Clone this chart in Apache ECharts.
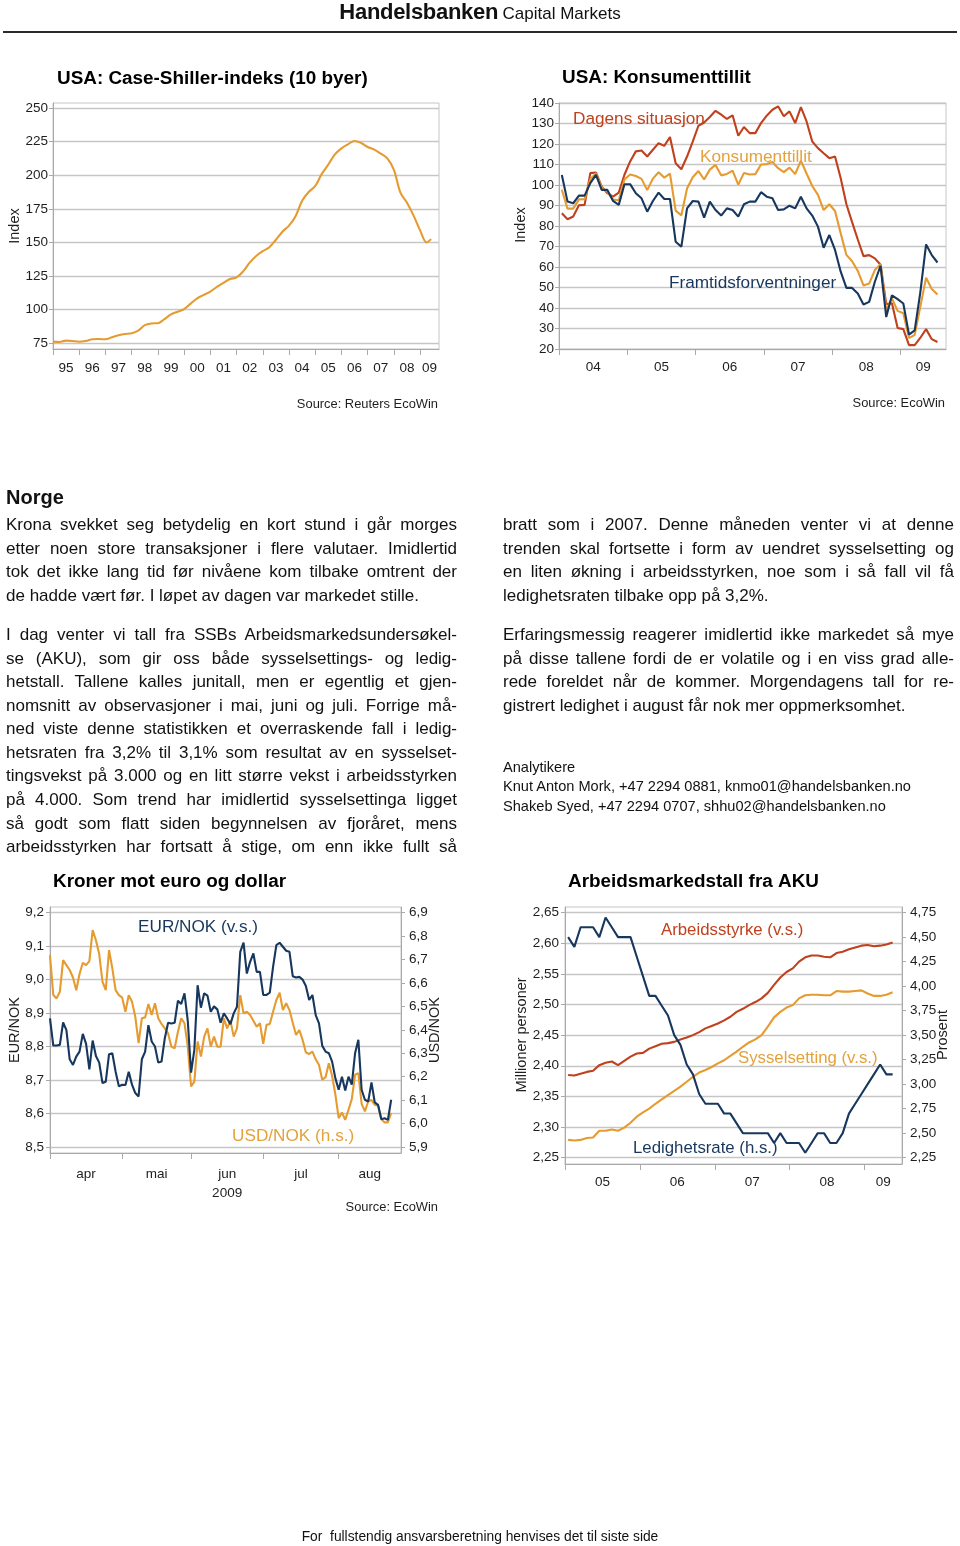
<!DOCTYPE html>
<html><head><meta charset="utf-8">
<script src="https://cdn.jsdelivr.net/npm/echarts@6/dist/echarts.min.js"></script>
<style>
html,body{margin:0;padding:0;background:#fff;}
#page{position:relative;width:960px;height:1546px;overflow:hidden;font-family:'Liberation Sans',Arial,sans-serif;color:#111;}
#chart{position:absolute;left:0;top:0;width:960px;height:1546px;}
.ln{position:absolute;white-space:nowrap;}
.jl{position:absolute;white-space:nowrap;text-align:justify;text-align-last:justify;}
</style></head>
<body><div id="page"><div id="chart"></div></div>
<script>
// ================= DATA =================
// Chart 1: Case-Shiller 10-city index
const csDates = ['1995-01','1995-04','1995-07','1995-10','1996-01','1996-04','1996-07','1996-10','1997-01','1997-04','1997-07','1997-10',
'1998-01','1998-04','1998-07','1998-10','1999-01','1999-04','1999-07','1999-10','2000-01','2000-04','2000-07','2000-10',
'2001-01','2001-04','2001-07','2001-10','2002-01','2002-04','2002-07','2002-10','2003-01','2003-04','2003-07','2003-10',
'2004-01','2004-04','2004-07','2004-10','2005-01','2005-04','2005-07','2005-10','2006-01','2006-04','2006-07','2006-10',
'2007-01','2007-04','2007-07','2007-10','2008-01','2008-04','2008-07','2008-10','2009-01','2009-04','2009-06'];
const csValues = [76.3,76.0,77.0,76.8,76.2,76.8,78.0,78.2,78.0,79.5,81.0,82.0,
82.5,84.5,88.5,89.8,90.0,93.0,96.5,98.5,100.5,104.5,108.5,111.0,
113.5,117.0,120.0,122.8,124.0,128.5,135.0,140.0,143.5,146.5,152.0,158.0,
162.5,169.5,181.0,187.5,192.0,201.0,208.0,215.5,220.0,223.0,225.5,224.0,
221.0,219.0,216.0,212.5,204.0,187.0,179.5,170.0,159.0,150.0,152.5];
const csYTicks = [75,100,125,150,175,200,225,250];
const csYears = [1995,1996,1997,1998,1999,2000,2001,2002,2003,2004,2005,2006,2007,2008,2009];

// Chart 2: US consumer confidence, monthly from 2004-01
const ccStartYear = 2004;
const ccYears = [2004,2005,2006,2007,2008,2009];
const ccPresent = [86.2,83.3,84.6,90.1,90.3,105.8,106.1,99.2,96.0,94.3,96.3,105.0,
111.5,116.4,116.8,113.9,117.2,120.4,119.1,123.4,110.6,107.7,113.9,121.2,
128.9,130.5,133.2,136.2,134.3,132.2,134.0,124.0,128.3,125.3,125.3,130.2,
133.8,136.7,138.4,133.5,135.9,130.2,138.0,131.0,121.2,118.0,115.5,113.1,
113.9,103.3,90.6,81.9,73.4,65.3,65.8,64.2,61.1,41.9,42.3,30.2,
29.7,21.9,21.9,25.5,29.7,24.8,23.4];
const ccConfidence = [97.7,88.5,88.5,93.0,93.1,102.8,105.7,98.7,96.7,92.9,92.6,102.7,
105.1,104.4,103.0,97.5,103.1,106.2,103.6,105.5,87.5,85.2,98.3,103.8,
106.8,102.7,107.5,109.8,104.7,105.4,107.0,100.2,105.9,105.1,105.3,110.0,
110.2,111.2,108.2,106.3,108.5,105.3,111.9,105.6,99.5,95.2,87.8,90.6,
87.3,76.4,65.9,62.8,58.1,51.0,51.9,58.5,61.4,38.8,44.7,38.6,
37.4,25.3,26.9,40.8,54.8,49.3,46.6];
const ccExpect = [104.9,91.9,91.1,94.8,94.8,100.9,104.9,97.6,97.6,92.2,90.3,100.4,
100.4,96.0,93.5,87.0,92.2,96.3,93.2,93.2,72.3,69.9,88.6,92.2,
91.9,84.1,91.9,87.8,85.1,88.6,87.8,84.6,90.6,91.9,91.9,96.5,
94.3,93.5,87.8,88.1,89.9,88.6,94.3,88.6,85.1,79.7,69.4,75.6,
68.3,57.7,49.8,49.8,47.1,41.7,43.0,52.8,60.6,35.6,46.2,44.3,
42.2,27.0,29.1,47.9,71.0,65.8,62.2];

// Chart 3: NOK vs EUR and USD, business days
const fxFirstDay = '2009-04-01', fxLastDay = '2009-08-28';
const fxMonthNames = ['apr','mai','jun','jul','aug'];
const fxEurNok = [8.884,8.803,8.803,8.805,8.872,8.849,8.762,8.745,8.770,8.785,
8.838,8.808,8.732,8.818,8.772,8.752,8.691,8.695,8.777,8.780,
8.725,8.681,8.686,8.685,8.725,8.686,8.661,8.651,8.762,8.785,
8.864,8.815,8.800,8.752,8.755,8.825,8.871,8.869,8.871,8.937,
8.927,8.959,8.877,8.722,8.790,8.983,8.916,8.959,8.952,8.904,
8.920,8.911,8.871,8.899,8.884,8.867,8.899,8.919,9.083,9.110,
9.018,9.053,9.078,9.023,9.023,8.954,8.954,8.961,9.038,9.103,
9.110,9.098,9.086,9.083,9.010,9.006,9.008,9.000,8.981,8.939,
8.954,8.894,8.869,8.802,8.785,8.780,8.755,8.705,8.671,8.710,
8.669,8.710,8.686,8.780,8.820,8.671,8.641,8.636,8.693,8.633,
8.626,8.583,8.586,8.581,8.641];
const fxUsdNok = [6.718,6.548,6.534,6.562,6.697,6.676,6.655,6.623,6.569,6.638,
6.686,6.676,6.693,6.825,6.782,6.723,6.605,6.569,6.740,6.662,
6.569,6.548,6.537,6.477,6.548,6.520,6.456,6.343,6.449,6.453,
6.510,6.463,6.513,6.449,6.425,6.406,6.385,6.328,6.321,6.392,
6.449,6.428,6.328,6.158,6.179,6.350,6.286,6.371,6.406,6.328,
6.371,6.328,6.328,6.449,6.406,6.439,6.371,6.406,6.548,6.470,
6.477,6.463,6.439,6.413,6.428,6.340,6.421,6.425,6.477,6.527,
6.558,6.484,6.513,6.484,6.430,6.378,6.399,6.357,6.303,6.297,
6.307,6.274,6.250,6.187,6.198,6.257,6.204,6.123,6.023,6.047,
6.016,6.059,6.104,6.208,6.215,6.084,6.052,6.094,6.101,6.080,
6.076,6.019,6.005,6.005,6.045];
const fxEurTicks = [8.5,8.6,8.7,8.8,8.9,9.0,9.1,9.2];
const fxUsdTicks = [5.9,6.0,6.1,6.2,6.3,6.4,6.5,6.6,6.7,6.8,6.9];

// Chart 4: AKU, monthly from 2005-01
const akuStartYear = 2005;
const akuYears = [2005,2006,2007,2008,2009];
const akuLabour = [2.385,2.384,2.387,2.390,2.392,2.401,2.405,2.407,2.401,2.408,
2.415,2.420,2.421,2.428,2.432,2.436,2.437,2.439,2.443,2.446,
2.450,2.455,2.461,2.465,2.469,2.474,2.480,2.488,2.493,2.499,
2.504,2.510,2.519,2.532,2.544,2.553,2.559,2.570,2.577,2.580,
2.580,2.578,2.577,2.584,2.586,2.590,2.593,2.596,2.597,2.595,
2.596,2.598,2.601];
const akuEmploy = [2.279,2.278,2.279,2.282,2.283,2.294,2.294,2.296,2.294,2.299,
2.307,2.317,2.324,2.330,2.338,2.345,2.352,2.359,2.366,2.374,
2.382,2.389,2.393,2.398,2.404,2.409,2.416,2.423,2.431,2.438,
2.443,2.450,2.464,2.479,2.488,2.495,2.499,2.510,2.515,2.516,
2.516,2.515,2.515,2.522,2.521,2.521,2.522,2.523,2.518,2.514,
2.514,2.516,2.520];
const akuUnemp = [4.5,4.4,4.6,4.6,4.6,4.5,4.7,4.6,4.5,4.5,
4.5,4.3,4.1,3.9,3.9,3.8,3.7,3.5,3.4,3.2,
3.1,2.9,2.8,2.8,2.8,2.7,2.7,2.6,2.5,2.5,
2.5,2.5,2.5,2.4,2.5,2.4,2.4,2.4,2.3,2.4,
2.5,2.5,2.4,2.4,2.5,2.7,2.8,2.9,3.0,3.1,
3.2,3.1,3.1];
const akuLeftTicks = [2.25,2.30,2.35,2.40,2.45,2.50,2.55,2.60,2.65];
const akuRightTicks = [2.25,2.50,2.75,3.00,3.25,3.50,3.75,4.00,4.25,4.50,4.75];

// ================= FONTS =================
function hasFont(name){
  const c=document.createElement('canvas').getContext('2d');
  const s='mmmmmmmmmmlli WWW 0123456789 Handelsbanken';
  for(const base of ['monospace','serif']){
    c.font='40px '+base; const a=c.measureText(s).width;
    c.font="40px '"+name+"', "+base; const b=c.measureText(s).width;
    if(Math.abs(a-b)>0.5) return true;
  }
  return false;
}
let NARROW='Liberation Sans', NS=0.86, HAS_N=false;
for(const f of ['Liberation Sans Narrow','Arial Narrow']){ if(hasFont(f)){NARROW=f;NS=1;HAS_N=true;break;} }
const REG='Liberation Sans';
const fs = s => Math.round(s*NS*10)/10;
const TICK = HAS_N ? 15 : 13.5;

// ================= COLORS =================
const ORANGE='#E69B30', RED='#C0411D', NAVY='#17375E', GRID='#C6C6C6', AXIS='#A9A9A9', LBL='#1E1E1E';

// ================= HELPERS =================
const comma = d => v => v.toFixed(d).replace('.',',');
function T(x,y,text,o={}){
  const size=o.size||15, fam=o.family||NARROW, w=o.weight||'normal';
  return {type:'text', x, y, rotation:o.rot||0, silent:true, z:100,
    style:{text, fill:o.color||LBL, font:`${w} ${size}px '${fam}'`,
      align:o.align||'left', textAlign:o.align||'left', verticalAlign:'middle', textVerticalAlign:'middle'}};
}
function yAxisBase(gi, min, max, ticks, fmt, pos, margin, split){
  return {gridIndex:gi, type:'value', min, max, position:pos,
    axisLine:{show:true, lineStyle:{color:AXIS,width:1}},
    axisTick:{show:true, inside:false, length:4, lineStyle:{color:AXIS}, customValues:ticks},
    axisLabel:{customValues:ticks, formatter:fmt, margin, color:LBL, fontFamily:NARROW, fontSize:TICK},
    splitLine:{show:split, lineStyle:{color:GRID,width:1.3}}};
}
function xYearAxis(gi, min, max, years, margin){
  const labels = years.map(y => y===years[years.length-1] ? (y+max)/2 : y+0.5);
  return {gridIndex:gi, type:'value', min, max,
    axisLine:{show:true, lineStyle:{color:AXIS}},
    axisTick:{show:true, length:6, lineStyle:{color:AXIS}, customValues:years},
    axisLabel:{customValues:labels, formatter:v=>String(Math.floor(v)).slice(2), margin,
      color:LBL, fontFamily:NARROW, fontSize:TICK},
    splitLine:{show:false}};
}
const line = (xi, yi, data, color, extra={}) => Object.assign({type:'line', xAxisIndex:xi, yAxisIndex:yi, data,
  showSymbol:false, symbol:'none', lineStyle:{color, width:2.1}, itemStyle:{color}, animation:false}, extra);

// derived plotting data
const csData = csDates.map((d,i)=>{const [y,m]=d.split('-').map(Number); return [y+(m-1)/12, csValues[i]];});
const mth = (start, arr) => arr.map((v,i)=>[start+(i+0.5)/12, v]);

// business days for FX chart
const fxDays=[];
for(let t=new Date(fxFirstDay+'T12:00:00Z'); t<=new Date(fxLastDay+'T12:00:00Z'); t=new Date(t.getTime()+864e5)){
  const wd=t.getUTCDay(); if(wd!==0 && wd!==6) fxDays.push(t.toISOString().slice(0,10));
}
const fxMonthStarts=[];
fxDays.forEach((d,i)=>{ if(i===0 || d.slice(5,7)!==fxDays[i-1].slice(5,7)) fxMonthStarts.push(i); });
const fxMax = fxDays.length-1;
const fxMids = fxMonthStarts.map((s,k)=> (s + (k+1<fxMonthStarts.length ? fxMonthStarts[k+1] : fxMax))/2);
const fxLabel = v => { const k = fxMids.indexOf(v); const n = fxMonthNames[k]||''; return n==='jun' ? 'jun\n2009' : n; };

const grids=[
  {left:53, top:103, width:386, height:246},
  {left:559, top:103, width:387, height:246},
  {left:50, top:907, width:351, height:246},
  {left:565, top:907, width:337, height:257}
].map(g=>Object.assign(g,{show:true, borderColor:GRID, borderWidth:1, backgroundColor:'transparent', containLabel:false, outerBoundsMode:'none'}));

const option = {
  animation:false,
  grid: grids,
  xAxis:[
    xYearAxis(0, 1995, 2009.72, csYears, 12),
    xYearAxis(1, 2004, 2009+8/12, ccYears, 11),
    {gridIndex:2, type:'value', min:0, max:fxMax,
      axisLine:{show:true, lineStyle:{color:AXIS}},
      axisTick:{show:true, length:6, lineStyle:{color:AXIS}, customValues:fxMonthStarts},
      axisLabel:{customValues:fxMids, formatter:fxLabel, margin:12, color:LBL, fontFamily:NARROW, fontSize:TICK, lineHeight:19},
      splitLine:{show:false}},
    xYearAxis(3, 2005, 2009.5, akuYears, 11)
  ],
  yAxis:[
    yAxisBase(0, 70.8, 253.7, csYTicks, v=>String(v), 'left', 5, true),
    Object.assign(yAxisBase(1, 20, 140, undefined, v=>String(v), 'left', 5, true), {interval:10}),
    yAxisBase(2, 8.4821, 9.2167, fxEurTicks, comma(1), 'left', 6, true),
    yAxisBase(2, 5.8744, 6.9239, fxUsdTicks, comma(1), 'right', 8, false),
    yAxisBase(3, 2.2397, 2.6591, akuLeftTicks, comma(2), 'left', 6, true),
    yAxisBase(3, 2.1856, 4.8069, akuRightTicks, comma(2), 'right', 8, false)
  ],
  series:[
    line(0,0,csData,ORANGE,{smooth:0.35}),
    line(1,1,mth(ccStartYear,ccPresent),RED),
    line(1,1,mth(ccStartYear,ccConfidence),ORANGE),
    line(1,1,mth(ccStartYear,ccExpect),NAVY),
    line(2,3,fxUsdNok.map((v,i)=>[i,v]),ORANGE),
    line(2,2,fxEurNok.map((v,i)=>[i,v]),NAVY),
    line(3,4,mth(akuStartYear,akuLabour),RED),
    line(3,4,mth(akuStartYear,akuEmploy),ORANGE),
    line(3,5,mth(akuStartYear,akuUnemp),NAVY)
  ],
  graphic:{elements:[
    // titles
    T(57,79,'USA: Case-Shiller-indeks (10 byer)',{size:fs(22),weight:'bold',color:'#000'}),
    T(562,78,'USA: Konsumenttillit',{size:fs(22),weight:'bold',color:'#000'}),
    T(53,882,'Kroner mot euro og dollar',{size:fs(22),weight:'bold',color:'#000'}),
    T(568,882,'Arbeidsmarkedstall fra AKU',{size:fs(22),weight:'bold',color:'#000'}),
    // axis names
    T(15,226,'Index',{family:REG,size:14.5,align:'center',rot:Math.PI/2}),
    T(521,225,'Index',{family:REG,size:14.5,align:'center',rot:Math.PI/2}),
    T(15,1030,'EUR/NOK',{family:REG,size:14.5,align:'center',rot:Math.PI/2}),
    T(435,1030,'USD/NOK',{family:REG,size:14.5,align:'center',rot:Math.PI/2}),
    T(522,1035,'Millioner personer',{family:REG,size:14.5,align:'center',rot:Math.PI/2}),
    T(943,1035,'Prosent',{family:REG,size:14.5,align:'center',rot:Math.PI/2}),
    // sources
    T(438,404,'Source: Reuters EcoWin',{size:fs(15),align:'right'}),
    T(945,403,'Source: EcoWin',{size:fs(15),align:'right'}),
    T(438,1207,'Source: EcoWin',{size:fs(15),align:'right'}),
    // series labels
    T(573,119,'Dagens situasjon',{size:fs(20),color:RED}),
    T(700,157,'Konsumenttillit',{size:fs(20),color:'#E3A23C'}),
    T(669,283,'Framtidsforventninger',{size:fs(20),color:NAVY}),
    T(138,927,'EUR/NOK (v.s.)',{size:fs(20),color:NAVY}),
    T(232,1136,'USD/NOK (h.s.)',{size:fs(20),color:'#E3A23C'}),
    T(661,930,'Arbeidsstyrke (v.s.)',{size:fs(19.5),color:RED}),
    T(738,1058,'Sysselsetting (v.s.)',{size:fs(19.5),color:'#E3A23C'}),
    T(633,1148,'Ledighetsrate (h.s.)',{size:fs(19.5),color:NAVY})
  ]}
};
echarts.init(document.getElementById('chart'),null,{renderer:'canvas'}).setOption(option);

// ================= TEXT =================
const page=document.getElementById('page');
function addLine(x,cy,w,text,o={}){
  const d=document.createElement('div');
  const lh=o.lh||22;
  d.className=o.just?'jl':'ln';
  d.style.left=x+'px'; d.style.top=(cy-lh/2)+'px'; d.style.lineHeight=lh+'px';
  d.style.fontSize=(o.size||17)+'px'; if(o.bold) d.style.fontWeight='bold';
  if(o.just) d.style.width=w+'px';
  if(o.center){ d.style.left=(x-400)+'px'; d.style.width='800px'; d.style.textAlign='center'; d.style.whiteSpace='pre'; }
  d.textContent=text; page.appendChild(d); return d;
}
// header
const hd=document.createElement('div');
hd.className='ln'; hd.style.left='0px'; hd.style.width='960px'; hd.style.textAlign='center';
hd.style.top='0px'; hd.style.lineHeight='24px';
hd.innerHTML="<span style=\"font-weight:bold;font-size:22px;letter-spacing:-0.3px\">Handelsbanken</span> <span style=\"font-size:17px\">Capital Markets</span>";
page.appendChild(hd);
const rule=document.createElement('div');
rule.style.cssText='position:absolute;left:3px;top:31px;width:954px;height:2px;background:#2a2a2a;';
page.appendChild(rule);

const leftCol=[
 ['Krona svekket seg betydelig en kort stund i går morges',1],
 ['etter noen store transaksjoner i flere valutaer. Imidlertid',1],
 ['tok det ikke lang tid før nivåene kom tilbake omtrent der',1],
 ['de hadde vært før. I løpet av dagen var markedet stille.',0]];
const leftCol2=[
 ['I dag venter vi tall fra SSBs Arbeidsmarkedsundersøkel-',1],
 ['se (AKU), som gir oss både sysselsettings- og ledig-',1],
 ['hetstall. Tallene kalles junitall, men er egentlig et gjen-',1],
 ['nomsnitt av observasjoner i mai, juni og juli. Forrige må-',1],
 ['ned viste denne statistikken et overraskende fall i ledig-',1],
 ['hetsraten fra 3,2% til 3,1% som resultat av en sysselset-',1],
 ['tingsvekst på 3.000 og en litt større vekst i arbeidsstyrken',1],
 ['på 4.000. Som trend har imidlertid sysselsettinga ligget',1],
 ['så godt som flatt siden begynnelsen av fjoråret, mens',1],
 ['arbeidsstyrken har fortsatt å stige, om enn ikke fullt så',1]];
const rightCol=[
 ['bratt som i 2007. Denne måneden venter vi at denne',1],
 ['trenden skal fortsette i form av uendret sysselsetting og',1],
 ['en liten økning i arbeidsstyrken, noe som i så fall vil få',1],
 ['ledighetsraten tilbake opp på 3,2%.',0]];
const rightCol2=[
 ['Erfaringsmessig reagerer imidlertid ikke markedet så mye',1],
 ['på disse tallene fordi de er volatile og i en viss grad alle-',1],
 ['rede foreldet når de kommer. Morgendagens tall for re-',1],
 ['gistrert ledighet i august får nok mer oppmerksomhet.',0]];
const LH=23.57;
addLine(6,497,0,'Norge',{size:20,bold:true,lh:26});
leftCol.forEach((l,i)=>addLine(6,525+i*LH,451,l[0],{just:!!l[1]}));
leftCol2.forEach((l,i)=>addLine(6,635+i*LH,451,l[0],{just:!!l[1]}));
rightCol.forEach((l,i)=>addLine(503,525+i*LH,451,l[0],{just:!!l[1]}));
rightCol2.forEach((l,i)=>addLine(503,635+i*LH,451,l[0],{just:!!l[1]}));
addLine(503,766.5,0,'Analytikere',{size:14.6,lh:18});
addLine(503,786.3,0,'Knut Anton Mork, +47 2294 0881, knmo01@handelsbanken.no',{size:14.6,lh:18});
addLine(503,806,0,'Shakeb Syed, +47 2294 0707, shhu02@handelsbanken.no',{size:14.6,lh:18});
addLine(480,1537,0,'For  fullstendig ansvarsberetning henvises det til siste side',{size:13.8,lh:18,center:true});
</script></body></html>
